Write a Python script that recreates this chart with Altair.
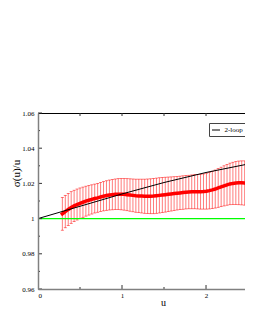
import altair as alt
import pandas as pd

# ---- data ----
u_vals = [0.29, 0.325, 0.36, 0.395, 0.43, 0.465, 0.50, 0.535, 0.57, 0.605,
          0.64, 0.675, 0.71, 0.745, 0.78, 0.815, 0.85, 0.885, 0.92, 0.955,
          0.99, 1.025, 1.06, 1.095, 1.13, 1.165, 1.20, 1.235, 1.27, 1.305,
          1.34, 1.375, 1.41, 1.445, 1.48, 1.515, 1.55, 1.585, 1.62, 1.655,
          1.69, 1.725, 1.76, 1.795, 1.83, 1.865, 1.90, 1.935, 1.97, 2.005,
          2.04, 2.075, 2.11, 2.145, 2.18, 2.215, 2.25, 2.285, 2.32, 2.355,
          2.39, 2.425, 2.46, 2.495, 2.53, 2.565, 2.60]
sigma_vals = [1.0027, 1.0040, 1.0052, 1.0063, 1.0072, 1.0080, 1.0087, 1.0093, 1.0099, 1.0104,
              1.0109, 1.0114, 1.0118, 1.0123, 1.0127, 1.0131, 1.0134, 1.0136, 1.0138, 1.0139,
              1.0139, 1.0138, 1.0136, 1.0134, 1.0132, 1.0130, 1.0129, 1.0128, 1.0127, 1.0127,
              1.0127, 1.0128, 1.0130, 1.0132, 1.0134, 1.0136, 1.0138, 1.0140, 1.0142, 1.0144,
              1.0146, 1.0148, 1.0150, 1.0151, 1.0152, 1.0153, 1.0153, 1.0153, 1.0154, 1.0156,
              1.0159, 1.0163, 1.0168, 1.0174, 1.0180, 1.0186, 1.0192, 1.0197, 1.0200, 1.0202,
              1.0203, 1.0203, 1.0202, 1.0200, 1.0198, 1.0197, 1.0196]
err_vals = [0.0093, 0.0092, 0.0091, 0.0090, 0.0089, 0.0088, 0.0087, 0.0086, 0.0085, 0.0084,
            0.0083, 0.0082, 0.0082, 0.0082, 0.0083, 0.0084, 0.0085, 0.0086, 0.0087, 0.0088,
            0.0089, 0.0090, 0.0091, 0.0092, 0.0093, 0.0094, 0.0095, 0.0096, 0.0097, 0.0098,
            0.0099, 0.0100, 0.0100, 0.0100, 0.0100, 0.0099, 0.0098, 0.0097, 0.0096, 0.0095,
            0.0095, 0.0095, 0.0095, 0.0095, 0.0096, 0.0097, 0.0098, 0.0099, 0.0100, 0.0102,
            0.0104, 0.0106, 0.0108, 0.0110, 0.0112, 0.0114, 0.0116, 0.0118, 0.0120, 0.0122,
            0.0124, 0.0125, 0.0126, 0.0127, 0.0128, 0.0129, 0.0130]

loop_u = [0.0, 0.5, 1.0, 1.5, 2.0, 2.5, 3.0]
loop_vals = [1.0, 1.0070, 1.0140, 1.0205, 1.0262, 1.0310, 1.0352]
loop_label = ["2-loop"]

ref_line = [1.0]

y_major = [0.96, 0.98, 1.0, 1.02, 1.04, 1.06]
y_minor = [0.97, 0.99, 1.01, 1.03, 1.05]
x_labels = [0, 1, 2]
x_major = [1, 2]
x_minor = [0.5, 1.5]
x_top = [0.5, 1, 1.5, 2]

FONT = "Liberation Serif"

df = pd.DataFrame({"u": u_vals, "s": sigma_vals, "e": err_vals})
df["lo"] = df["s"] - df["e"]
df["hi"] = df["s"] + df["e"]
loop_df = pd.DataFrame({"u": loop_u, "s": loop_vals, "series": loop_label * len(loop_u)})

xs = alt.Scale(domain=[0, 2.464], nice=False, zero=False)
ys = alt.Scale(domain=[0.96, 1.06], nice=False, zero=False)

bars = alt.Chart(df).mark_rule(color="#ff0000", strokeWidth=0.8, opacity=0.65, clip=True).encode(
    x=alt.X("u:Q", scale=xs, axis=None),
    y=alt.Y("lo:Q", scale=ys, axis=None),
    y2="hi:Q",
)
cap_hi = alt.Chart(df).mark_tick(color="#ff0000", orient="horizontal", size=3, thickness=0.8,
                                 opacity=0.65, clip=True).encode(
    x=alt.X("u:Q", scale=xs, axis=None), y=alt.Y("hi:Q", scale=ys, axis=None))
cap_lo = alt.Chart(df).mark_tick(color="#ff0000", orient="horizontal", size=3, thickness=0.8,
                                 opacity=0.65, clip=True).encode(
    x=alt.X("u:Q", scale=xs, axis=None), y=alt.Y("lo:Q", scale=ys, axis=None))
red_line = alt.Chart(df).mark_line(color="#ff0000", strokeWidth=3.5, strokeCap="square", clip=True).encode(
    x=alt.X("u:Q", scale=xs, axis=None), y=alt.Y("s:Q", scale=ys, axis=None))

black = alt.Chart(loop_df).mark_line(strokeWidth=1, clip=True).encode(
    x=alt.X("u:Q", scale=xs, title="u",
            axis=alt.Axis(orient="bottom", values=x_labels, format="~g", ticks=False,
                          labelFont=FONT, labelFontSize=7, labelColor="black", labelPadding=2,
                          domainColor="#808080", domainWidth=1.5, grid=False,
                          titleFont=FONT, titleFontSize=10, titleFontWeight="normal",
                          titleColor="black", titleX=125, titleY=13, titleBaseline="middle",
                          zindex=1)),
    y=alt.Y("s:Q", scale=ys, title="σ(u)/u",
            axis=alt.Axis(orient="left", values=y_major, format="~g", ticks=False,
                          labelFont=FONT, labelFontSize=7, labelColor="black", labelPadding=4,
                          domainColor="#808080", domainWidth=1.5, grid=False,
                          titleFont=FONT, titleFontSize=11, titleFontWeight="normal",
                          titleColor="black", titleX=-22, titleY=60, titleAlign="center",
                          titleBaseline="middle", zindex=1)),
    color=alt.Color("series:N", scale=alt.Scale(domain=loop_label, range=["black"]),
                    legend=alt.Legend(orient="none", legendX=171, legendY=10, title=None,
                                      symbolType="stroke", symbolSize=64, symbolStrokeWidth=1,
                                      labelFont=FONT, labelFontSize=7, labelColor="black",
                                      labelOffset=4, strokeColor="#444", fillColor="white",
                                      padding=2.5, cornerRadius=0)),
)

green = alt.Chart(pd.DataFrame({"y": ref_line})).mark_rule(color="#00ff00", strokeWidth=1.2).encode(
    y=alt.Y("y:Q", scale=ys, axis=None))

# inward tick marks
ymaj = alt.Chart(pd.DataFrame({"v": y_major})).mark_rule(color="#333", strokeWidth=1).encode(
    y=alt.Y("v:Q", scale=ys, axis=None), x=alt.value(0), x2=alt.value(4))
ymin = alt.Chart(pd.DataFrame({"v": y_minor})).mark_rule(color="#333", strokeWidth=1).encode(
    y=alt.Y("v:Q", scale=ys, axis=None), x=alt.value(0), x2=alt.value(2))
xmaj = alt.Chart(pd.DataFrame({"v": x_major})).mark_rule(color="#333", strokeWidth=1).encode(
    x=alt.X("v:Q", scale=xs, axis=None), y=alt.value(176), y2=alt.value(172))
xmin = alt.Chart(pd.DataFrame({"v": x_minor})).mark_rule(color="#333", strokeWidth=1).encode(
    x=alt.X("v:Q", scale=xs, axis=None), y=alt.value(176), y2=alt.value(174))
xtop = alt.Chart(pd.DataFrame({"v": x_top})).mark_rule(color="#333", strokeWidth=1).encode(
    x=alt.X("v:Q", scale=xs,
            axis=alt.Axis(orient="top", labels=False, ticks=False, title=None, grid=False,
                          domainColor="black", domainWidth=1)),
    y=alt.value(0), y2=alt.value(3))

chart = alt.layer(
    bars, cap_hi, cap_lo, red_line, black, green, ymaj, ymin, xmaj, xmin, xtop
).resolve_axis(x="independent", y="independent").properties(
    width=207, height=176,
    autosize=alt.AutoSizeParams(type="none"),
    padding={"left": 30, "top": 105, "right": 0, "bottom": 24},
    background="white",
).configure_view(stroke=None)

chart.save("out.html", embed_options={"renderer": "svg", "actions": False})
